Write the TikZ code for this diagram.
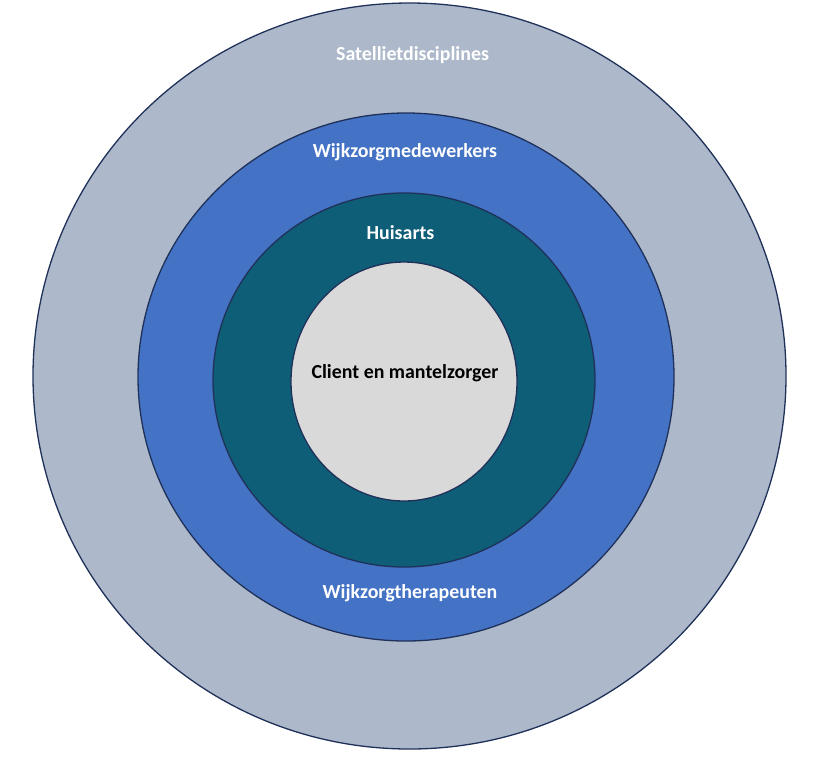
\documentclass[tikz,border=0pt]{standalone}
\usepackage{fontspec}
\setmainfont{Carlito}
\usetikzlibrary{shapes.geometric}
\definecolor{outerfill}{HTML}{ADB9CA}
\definecolor{bluefill}{HTML}{4472C4}
\definecolor{tealfill}{HTML}{0F5E77}
\definecolor{innerfill}{HTML}{D9D9D9}
\definecolor{rim}{HTML}{1F3159}
\tikzset{
  ring/.style={ellipse, draw=rim, line width=1.3pt, inner sep=0pt},
  lbl/.style={font=\fontsize{19.9}{24}\selectfont\bfseries, text=white, inner sep=0pt},
}
\begin{document}
\begin{tikzpicture}[x=1pt,y=1pt]
\useasboundingbox (0,0) rectangle (826,-756);
\node[ring, fill=outerfill, minimum width=753pt, minimum height=746pt] (outer) at (409.5,-376) {};
\node[ring, fill=bluefill, minimum width=536pt, minimum height=528pt] (blue) at (406,-377) {};
\node[ring, fill=tealfill, minimum width=382pt, minimum height=374pt] (teal) at (404,-380) {};
\node[ring, fill=innerfill, minimum width=226pt, minimum height=239pt] (inner) at (404,-381.5) {};
\node[lbl] (sat) at (412.5,-55) {Satellietdisciplines};
\node[lbl] (wmed) at (405,-152) {Wijkzorgmedewerkers};
\node[lbl] (huis) at (400.5,-233) {Huisarts};
\node[lbl, text=black] (client) at (405,-373) {Client en mantelzorger};
\node[lbl] (wther) at (410,-593) {Wijkzorgtherapeuten};
\end{tikzpicture}
\end{document}
